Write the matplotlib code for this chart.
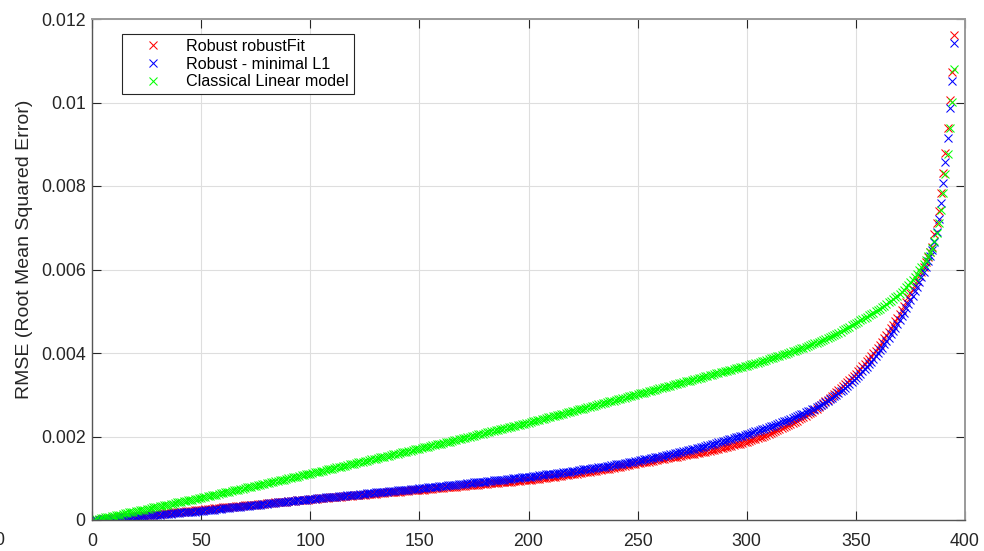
import numpy as np
import matplotlib
matplotlib.use("Agg")
import matplotlib.pyplot as plt

plt.rcParams['font.family'] = ['Liberation Sans', 'DejaVu Sans']

# Sorted RMSE values, in units of 1e-5
rmse_robustfit = [
    0, 0, 1, 1, 2, 2, 3, 3, 4, 4,
    5, 5, 6, 6, 7, 7, 8, 8, 9, 9,
    10, 10, 11, 11, 12, 12, 13, 13, 14, 14,
    15, 15, 16, 16, 17, 17, 18, 18, 19, 19,
    20, 20, 21, 21, 22, 22, 23, 23, 24, 25,
    25, 26, 26, 27, 27, 28, 28, 29, 29, 30,
    30, 31, 31, 32, 32, 33, 33, 34, 34, 35,
    35, 36, 36, 37, 37, 38, 38, 39, 39, 40,
    40, 41, 41, 42, 42, 43, 43, 44, 44, 45,
    45, 46, 46, 47, 47, 48, 48, 49, 49, 50,
    50, 51, 51, 52, 52, 53, 53, 53, 54, 54,
    55, 55, 56, 56, 57, 57, 57, 58, 58, 59,
    59, 60, 60, 61, 61, 62, 62, 62, 63, 63,
    64, 64, 65, 65, 66, 66, 66, 67, 67, 68,
    68, 69, 69, 70, 70, 71, 71, 71, 72, 72,
    73, 73, 74, 74, 75, 75, 76, 76, 77, 77,
    77, 78, 78, 79, 79, 80, 80, 81, 81, 82,
    82, 83, 83, 84, 84, 85, 85, 86, 86, 87,
    87, 88, 88, 88, 89, 89, 90, 90, 91, 91,
    92, 92, 93, 93, 94, 94, 95, 95, 96, 96,
    97, 98, 98, 99, 99, 100, 101, 101, 102, 103,
    103, 104, 105, 105, 106, 107, 108, 108, 109, 110,
    111, 111, 112, 113, 114, 114, 115, 116, 117, 118,
    118, 119, 120, 121, 122, 123, 123, 124, 125, 126,
    127, 128, 129, 130, 131, 132, 133, 134, 135, 136,
    137, 138, 138, 139, 140, 141, 142, 143, 144, 145,
    146, 147, 148, 149, 150, 150, 151, 152, 153, 154,
    155, 156, 157, 158, 159, 159, 160, 161, 162, 163,
    164, 165, 166, 167, 168, 169, 170, 172, 173, 174,
    175, 177, 178, 179, 181, 182, 183, 185, 186, 187,
    189, 191, 193, 195, 196, 198, 200, 202, 204, 206,
    208, 210, 213, 215, 217, 220, 222, 224, 227, 229,
    232, 235, 238, 241, 244, 247, 250, 253, 256, 259,
    263, 267, 271, 275, 280, 284, 288, 292, 297, 301,
    306, 311, 316, 321, 325, 330, 335, 340, 345, 350,
    356, 362, 368, 374, 380, 386, 392, 399, 405, 412,
    419, 427, 435, 443, 451, 459, 468, 476, 485, 494,
    503, 513, 523, 533, 543, 553, 563, 573, 584, 595,
    607, 619, 631, 643, 655,
    685, 712, 740, 783, 830, 878, 938, 1006, 1074, 1162,
]

rmse_minimal_l1 = [
    0, 0, 1, 1, 2, 2, 3, 3, 3, 4,
    4, 5, 5, 6, 6, 7, 7, 7, 8, 8,
    9, 9, 10, 10, 11, 11, 11, 12, 12, 13,
    13, 14, 14, 15, 15, 15, 16, 16, 17, 17,
    18, 18, 19, 19, 19, 20, 20, 21, 21, 22,
    22, 23, 24, 24, 25, 25, 26, 26, 27, 28,
    28, 29, 29, 30, 30, 31, 32, 32, 33, 33,
    34, 34, 35, 36, 36, 37, 37, 38, 38, 39,
    40, 40, 41, 41, 42, 42, 43, 44, 44, 45,
    45, 46, 46, 47, 48, 48, 49, 49, 50, 50,
    51, 51, 52, 52, 53, 53, 54, 54, 55, 55,
    56, 56, 57, 57, 58, 58, 59, 59, 60, 60,
    61, 61, 62, 62, 63, 64, 64, 65, 65, 66,
    66, 67, 67, 68, 68, 69, 69, 70, 70, 71,
    71, 72, 72, 73, 73, 74, 74, 75, 75, 76,
    76, 77, 77, 78, 79, 79, 80, 80, 81, 81,
    82, 82, 83, 84, 84, 85, 85, 86, 86, 87,
    87, 88, 89, 89, 90, 90, 91, 91, 92, 92,
    93, 94, 94, 95, 95, 96, 96, 97, 97, 98,
    99, 99, 100, 100, 101, 101, 102, 102, 103, 103,
    104, 105, 105, 106, 107, 107, 108, 109, 109, 110,
    111, 111, 112, 113, 113, 114, 115, 115, 116, 117,
    118, 118, 119, 120, 121, 121, 122, 123, 124, 124,
    125, 126, 127, 128, 128, 129, 130, 131, 132, 133,
    134, 134, 135, 136, 137, 138, 139, 140, 141, 142,
    143, 144, 145, 146, 147, 148, 149, 150, 151, 152,
    153, 154, 155, 156, 158, 159, 160, 161, 162, 163,
    165, 166, 167, 168, 169, 171, 172, 173, 174, 176,
    177, 179, 180, 181, 183, 184, 186, 187, 189, 190,
    192, 193, 195, 196, 198, 199, 201, 202, 204, 205,
    207, 209, 210, 212, 214, 215, 217, 219, 221, 222,
    224, 226, 228, 230, 232, 234, 236, 238, 240, 242,
    244, 246, 249, 251, 253, 255, 258, 260, 262, 265,
    267, 270, 273, 276, 279, 282, 285, 289, 292, 296,
    300, 304, 308, 312, 316, 321, 325, 330, 335, 340,
    345, 350, 356, 361, 367, 373, 379, 385, 392, 399,
    406, 413, 421, 429, 437, 445, 453, 461, 470, 479,
    488, 497, 507, 517, 527, 537, 548, 559, 570, 583,
    595, 607, 620, 633, 647,
    665, 690, 722, 759, 806, 858, 914, 988, 1052, 1142,
]

rmse_classical = [
    1, 2, 3, 4, 5, 6, 7, 8, 9, 10,
    11, 12, 13, 14, 16, 17, 18, 19, 20, 21,
    22, 23, 24, 25, 26, 27, 28, 30, 31, 32,
    33, 34, 35, 36, 37, 38, 39, 40, 42, 43,
    44, 45, 46, 47, 48, 49, 50, 51, 52, 53,
    54, 55, 57, 58, 59, 60, 61, 62, 64, 65,
    66, 67, 68, 69, 71, 72, 73, 74, 75, 76,
    78, 79, 80, 81, 82, 83, 85, 86, 87, 88,
    89, 90, 92, 93, 94, 95, 96, 97, 99, 100,
    101, 102, 103, 104, 106, 107, 108, 109, 110, 111,
    112, 114, 115, 116, 117, 118, 120, 121, 122, 123,
    124, 126, 127, 128, 129, 130, 132, 133, 134, 135,
    136, 138, 139, 140, 141, 142, 144, 145, 146, 147,
    148, 150, 151, 152, 153, 154, 156, 157, 158, 159,
    160, 162, 163, 164, 165, 166, 168, 169, 170, 171,
    172, 174, 175, 176, 177, 179, 180, 181, 182, 183,
    185, 186, 187, 188, 190, 191, 192, 193, 195, 196,
    197, 198, 200, 201, 202, 203, 205, 206, 207, 208,
    210, 211, 212, 213, 215, 216, 217, 218, 220, 221,
    222, 223, 225, 226, 227, 228, 230, 231, 232, 233,
    235, 236, 237, 239, 240, 241, 243, 244, 246, 247,
    248, 250, 251, 252, 254, 255, 256, 258, 259, 260,
    262, 263, 265, 266, 267, 269, 270, 271, 273, 274,
    275, 277, 278, 280, 281, 282, 284, 285, 286, 288,
    289, 290, 292, 293, 294, 296, 297, 299, 300, 301,
    303, 304, 305, 307, 308, 310, 311, 312, 314, 315,
    316, 318, 319, 321, 322, 323, 325, 326, 327, 329,
    330, 332, 333, 334, 336, 337, 338, 340, 341, 343,
    344, 345, 347, 348, 349, 351, 352, 354, 355, 356,
    358, 359, 360, 362, 363, 365, 366, 367, 369, 370,
    371, 373, 374, 376, 377, 379, 380, 382, 383, 385,
    387, 388, 390, 392, 393, 395, 397, 398, 400, 402,
    404, 405, 407, 409, 411, 413, 415, 417, 419, 421,
    423, 425, 427, 429, 432, 434, 436, 438, 441, 443,
    446, 449, 451, 454, 457, 460, 463, 466, 469, 472,
    475, 478, 481, 484, 487, 490, 493, 496, 500, 503,
    506, 510, 513, 517, 521, 525, 529, 533, 537, 542,
    547, 552, 557, 563, 569, 576, 583, 590, 598, 606,
    614, 623, 632, 641, 651,
    668, 688, 712, 742, 783, 828, 877, 938, 1002, 1080,
]

series_names = ["Robust robustFit", "Robust - minimal L1", "Classical Linear model"]
series_colors = ["#ff0000", "#0000ff", "#00ff00"]
x_ticks = [0, 50, 100, 150, 200, 250, 300, 350, 400]
y_ticks = [0, 0.002, 0.004, 0.006, 0.008, 0.01, 0.012]
y_tick_labels = ["0", "0.002", "0.004", "0.006", "0.008", "0.01", "0.012"]
y_label = "RMSE (Root Mean Squared Error)"

TICK_FS = 12.8

fig = plt.figure(figsize=(9.84, 5.51), dpi=100)
ax = fig.add_axes([92/984, 1-520/551, (965-92)/984, (520-19)/551])

for vals, name, col in zip([rmse_robustfit, rmse_minimal_l1, rmse_classical],
                           series_names, series_colors):
    v = np.array(vals, dtype=float) * 1e-5
    xs = np.arange(1, len(v) + 1)
    ax.plot(xs, v, linestyle='none', marker='x', markersize=6.3,
            markeredgewidth=0.75, color=col, label=name)

ax.set_xlim(0, 400)
ax.set_ylim(0, 0.012)
ax.set_xticks(x_ticks)
ax.set_xticklabels([str(t) for t in x_ticks])
ax.set_yticks(y_ticks)
ax.set_yticklabels(y_tick_labels)
ax.tick_params(axis='both', direction='in', length=6.5, width=0.8,
               labelsize=TICK_FS, colors='#262626', top=True, right=True)
ax.tick_params(axis='x', pad=9)
ax.tick_params(axis='y', pad=4.5)
ax.grid(True, color='#dedede', linewidth=0.8)
ax.set_axisbelow(True)
for side in ['left', 'bottom']:
    ax.spines[side].set_color('#555555')
    ax.spines[side].set_linewidth(1.0)
for side in ['top', 'right']:
    ax.spines[side].set_color('#9a9a9a')
    ax.spines[side].set_linewidth(1.4)

ax.set_ylabel(y_label, fontsize=14, color='#262626')
ax.yaxis.set_label_coords(-0.0676, 0.541)

leg = ax.legend(loc='upper left', bbox_to_anchor=(0.0344, 0.970), borderaxespad=0,
                fontsize=11.6, fancybox=False, framealpha=1, edgecolor='#262626',
                handlelength=3.25, handletextpad=0.42, borderpad=0.3, labelspacing=0.17)
leg.get_frame().set_linewidth(0.8)

fig.text(-6/984, 6/551, "0", fontsize=TICK_FS, color='#262626', ha='left', va='baseline')

fig.savefig("out.png", dpi=100)
